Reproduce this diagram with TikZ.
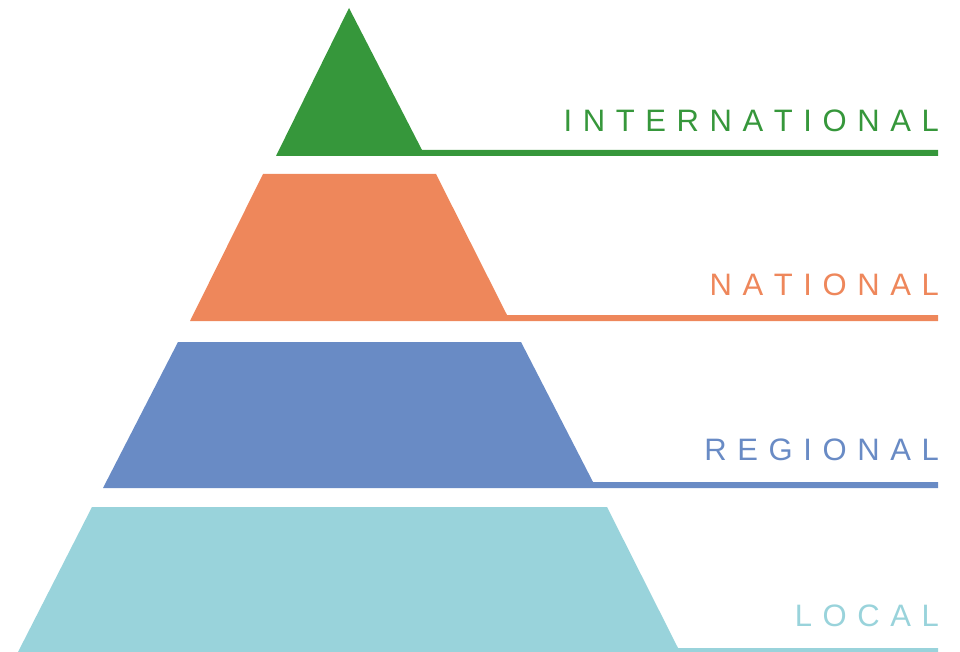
\documentclass[tikz,border=0pt]{standalone}
\usepackage{fontspec}
\setmainfont{Liberation Sans}
\definecolor{cgreen}{RGB}{54,151,59}
\definecolor{corange}{RGB}{238,135,91}
\definecolor{cblue}{RGB}{105,139,197}
\definecolor{ccyan}{RGB}{153,211,219}
\def\spacedword#1{\spacedaux#1\relax}
\def\spacedaux#1#2{#1\ifx#2\relax\else\kern10.6pt\expandafter\spacedaux\expandafter#2\fi}
\tikzset{
  levellabel/.style={anchor=base east, inner sep=0pt, font=\fontsize{31}{31}\selectfont}
}
\begin{document}
\begin{tikzpicture}[x=1pt,y=-1pt]
\useasboundingbox (0,0) rectangle (960,652);
% layers (shape + underline as one polygon)
\fill[cgreen] (349,8) -- (422,150) -- (938,150) -- (938,156) -- (276,156) -- cycle;
\fill[corange] (263,174) -- (436,174) -- (507,315) -- (938,315) -- (938,321) -- (190,321) -- cycle;
\fill[cblue] (178,342) -- (521,342) -- (593,482) -- (938,482) -- (938,488) -- (103,488) -- cycle;
\fill[ccyan] (92,507) -- (607,507) -- (678,648) -- (938,648) -- (938,652) -- (18,652) -- cycle;
% labels
\node[levellabel, text=cgreen] (intl) at (939,132) {\spacedword{INTERNATIONAL}};
\node[levellabel, text=corange] (natl) at (939,295) {\spacedword{NATIONAL}};
\node[levellabel, text=cblue] (regl) at (939,460) {\spacedword{REGIONAL}};
\node[levellabel, text=ccyan] (locl) at (939,626) {\spacedword{LOCAL}};
\end{tikzpicture}
\end{document}
